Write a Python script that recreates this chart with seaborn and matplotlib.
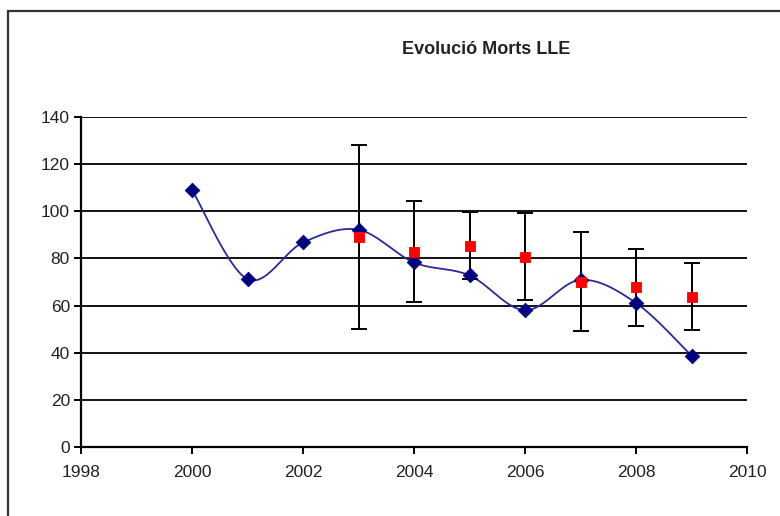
import numpy as np
import pandas as pd
import matplotlib
matplotlib.use('Agg')
import matplotlib.pyplot as plt
import seaborn as sns
from matplotlib.patches import Rectangle

# Data
years = [2000, 2001, 2002, 2003, 2004, 2005, 2006, 2007, 2008, 2009]
deaths = [109.2, 71.2, 86.8, 92.2, 78.3, 72.8, 58.0, 70.9, 61.1, 38.7]

est_years = [2003, 2004, 2005, 2006, 2007, 2008, 2009]
est_values = [89.1, 82.9, 85.4, 80.8, 70.2, 67.7, 63.8]
est_err = [39.0, 21.6, 14.2, 18.6, 21.2, 16.5, 14.1]

y_ticks = [0, 20, 40, 60, 80, 100, 120, 140]
x_ticks = [1998, 2000, 2002, 2004, 2006, 2008, 2010]

title = 'Evolució Morts LLE'


def smooth_curve(xs, ys, n=30):
    # Excel-like smoothed line: Bezier segments with Catmull-Rom control points
    p = np.column_stack([xs, ys]).astype(float)
    p_ext = np.vstack([p[0], p, p[-1]])
    out = []
    t = np.linspace(0, 1, n)[:, None]
    for i in range(len(p) - 1):
        p0, p1 = p_ext[i + 1], p_ext[i + 2]
        c1 = p0 + (p_ext[i + 2] - p_ext[i]) / 6.0
        c2 = p1 - (p_ext[i + 3] - p_ext[i + 1]) / 6.0
        seg = ((1 - t) ** 3) * p0 + 3 * ((1 - t) ** 2) * t * c1 \
            + 3 * (1 - t) * t ** 2 * c2 + t ** 3 * p1
        out.append(seg if i == 0 else seg[1:])
    out = np.vstack(out)
    return out[:, 0], out[:, 1]


sns.set_style('white')
plt.rcParams['font.family'] = ['Liberation Sans', 'DejaVu Sans']

fig = plt.figure(figsize=(7.8, 5.16), dpi=100)
ax = fig.add_axes([81 / 780, 1 - 446.7 / 516, 666 / 780, 329.4 / 516])

# outer chart frame (only left/top edges visible)
fig.patches.append(Rectangle((7.5 / 780, -0.2), 1.2, 1.2 - 11 / 516,
                             transform=fig.transFigure, fill=False,
                             edgecolor='#333333', linewidth=1.6, zorder=0))

# gridlines
for v in y_ticks[1:]:
    ax.axhline(v, color='black', linewidth=1.3, zorder=1)

# smoothed blue line
sx, sy = smooth_curve(years, deaths)
df_line = pd.DataFrame({'x': sx, 'y': sy})
sns.lineplot(data=df_line, x='x', y='y', ax=ax, color='#2a2a9a',
             linewidth=1.3, sort=False, estimator=None, zorder=2)

# error bars around estimates
ax.errorbar(est_years, est_values, yerr=est_err, fmt='none', ecolor='black',
            elinewidth=1.4, capsize=5.5, capthick=1.4, zorder=3)

df_obs = pd.DataFrame({'Any': years, 'Morts': deaths})
sns.scatterplot(data=df_obs, x='Any', y='Morts', ax=ax, marker='D', s=55,
                color='#000080', edgecolor='#000080', zorder=4)

df_est = pd.DataFrame({'Any': est_years, 'Valor': est_values})
sns.scatterplot(data=df_est, x='Any', y='Valor', ax=ax, marker='s', s=60,
                color='#ff0000', edgecolor='#ff0000', zorder=5)

ax.set_xlim(1998, 2010)
ax.set_ylim(0, 140)
ax.set_xticks(x_ticks)
ax.set_yticks(y_ticks)
ax.set_xlabel('')
ax.set_ylabel('')

for side in ['top', 'right']:
    ax.spines[side].set_visible(False)
for side in ['left', 'bottom']:
    ax.spines[side].set_color('black')
    ax.spines[side].set_linewidth(1.6)
ax.tick_params(axis='both', direction='out', length=5, width=1.4,
               color='black', labelsize=12.5, labelcolor='#222222',
               left=True, bottom=True)
ax.tick_params(axis='x', pad=8)
ax.tick_params(axis='y', pad=3)

fig.text(486 / 780, 1 - 49 / 516, title, ha='center', va='center',
         fontsize=13, fontweight='bold', color='#222222')

fig.savefig('out.png', dpi=100)
